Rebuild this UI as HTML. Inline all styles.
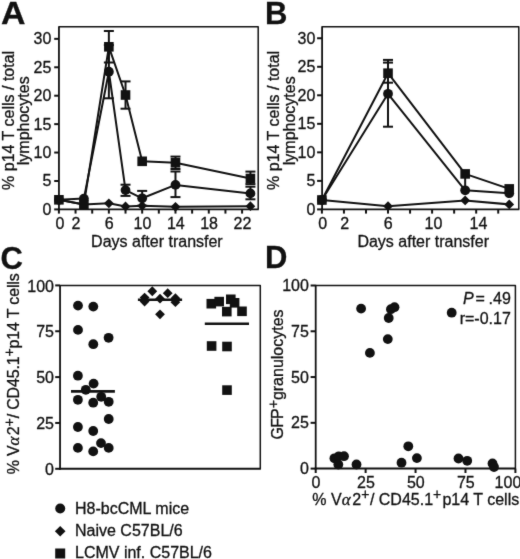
<!DOCTYPE html>
<html><head><meta charset="utf-8"><style>
html,body{margin:0;padding:0;background:#fff;}
svg{display:block;}
text{font-family:"Liberation Sans", sans-serif;fill:#111;}
</style></head><body>
<svg width="520" height="559" viewBox="0 0 520 559" stroke="#111" fill="#111" stroke-linecap="butt">
<defs><filter id="soft" x="0" y="0" width="100%" height="100%" color-interpolation-filters="sRGB"><feConvolveMatrix order="3" kernelMatrix="0.015 0.07 0.015 0.07 0.66 0.07 0.015 0.07 0.015" divisor="1" edgeMode="none" preserveAlpha="false"/></filter></defs>
<rect x="0" y="0" width="520" height="559" fill="#fff" stroke="none"/>
<g filter="url(#soft)">
<rect x="0" y="0" width="520" height="559" fill="#fff" stroke="none"/>
<path d="M58.95,26.80 L258.20,26.80 L258.20,209.35" fill="none" stroke-width="1.5" stroke-linejoin="round"/>
<line x1="58.95" y1="26.20" x2="58.95" y2="210.25" stroke-width="1.8"/>
<line x1="58.05" y1="209.35" x2="258.80" y2="209.35" stroke-width="1.8"/>
<line x1="54.20" y1="209.40" x2="58.95" y2="209.40" stroke-width="2.0"/>
<text stroke-width="0.3" x="51.40" y="214.80" text-anchor="end" font-size="16" >0</text>
<line x1="54.20" y1="180.98" x2="58.95" y2="180.98" stroke-width="2.0"/>
<text stroke-width="0.3" x="51.40" y="186.38" text-anchor="end" font-size="16" >5</text>
<line x1="54.20" y1="152.55" x2="58.95" y2="152.55" stroke-width="2.0"/>
<text stroke-width="0.3" x="51.40" y="157.95" text-anchor="end" font-size="16" >10</text>
<line x1="54.20" y1="124.13" x2="58.95" y2="124.13" stroke-width="2.0"/>
<text stroke-width="0.3" x="51.40" y="129.53" text-anchor="end" font-size="16" >15</text>
<line x1="54.20" y1="95.70" x2="58.95" y2="95.70" stroke-width="2.0"/>
<text stroke-width="0.3" x="51.40" y="101.10" text-anchor="end" font-size="16" >20</text>
<line x1="54.20" y1="67.28" x2="58.95" y2="67.28" stroke-width="2.0"/>
<text stroke-width="0.3" x="51.40" y="72.68" text-anchor="end" font-size="16" >25</text>
<line x1="54.20" y1="38.85" x2="58.95" y2="38.85" stroke-width="2.0"/>
<text stroke-width="0.3" x="51.40" y="44.25" text-anchor="end" font-size="16" >30</text>
<line x1="58.90" y1="209.35" x2="58.90" y2="213.60" stroke-width="2.0"/>
<line x1="75.55" y1="209.35" x2="75.55" y2="213.60" stroke-width="2.0"/>
<line x1="92.21" y1="209.35" x2="92.21" y2="213.60" stroke-width="2.0"/>
<line x1="108.86" y1="209.35" x2="108.86" y2="213.60" stroke-width="2.0"/>
<line x1="125.52" y1="209.35" x2="125.52" y2="213.60" stroke-width="2.0"/>
<line x1="142.17" y1="209.35" x2="142.17" y2="213.60" stroke-width="2.0"/>
<line x1="158.82" y1="209.35" x2="158.82" y2="213.60" stroke-width="2.0"/>
<line x1="175.48" y1="209.35" x2="175.48" y2="213.60" stroke-width="2.0"/>
<line x1="192.13" y1="209.35" x2="192.13" y2="213.60" stroke-width="2.0"/>
<line x1="208.79" y1="209.35" x2="208.79" y2="213.60" stroke-width="2.0"/>
<line x1="225.44" y1="209.35" x2="225.44" y2="213.60" stroke-width="2.0"/>
<line x1="242.09" y1="209.35" x2="242.09" y2="213.60" stroke-width="2.0"/>
<text stroke-width="0.3" x="60.00" y="228.80" text-anchor="middle" font-size="16" >0</text>
<text stroke-width="0.3" x="75.85" y="228.80" text-anchor="middle" font-size="16" >2</text>
<text stroke-width="0.3" x="109.16" y="228.80" text-anchor="middle" font-size="16" >6</text>
<text stroke-width="0.3" x="142.47" y="228.80" text-anchor="middle" font-size="16" >10</text>
<text stroke-width="0.3" x="175.78" y="228.80" text-anchor="middle" font-size="16" >14</text>
<text stroke-width="0.3" x="209.09" y="228.80" text-anchor="middle" font-size="16" >18</text>
<text stroke-width="0.3" x="242.39" y="228.80" text-anchor="middle" font-size="16" >22</text>
<text stroke-width="0.3" x="156.90" y="246.70" text-anchor="middle" font-size="16" >Days after transfer</text>
<text stroke-width="0.3" x="0.00" y="0.00" text-anchor="middle" font-size="16" transform="translate(13.7,120.4) rotate(-90)">% p14 T cells / total</text>
<text stroke-width="0.3" x="0.00" y="0.00" text-anchor="middle" font-size="16" transform="translate(29.3,120.8) rotate(-90)">lymphocytes</text>
<text stroke-width="0.3" x="0" y="24.1" font-size="32" font-weight="bold" transform="translate(0.9,0) scale(1.06,1)">A</text>
<line x1="108.86" y1="31.00" x2="108.86" y2="62.50" stroke-width="2"/>
<line x1="103.86" y1="31.00" x2="113.86" y2="31.00" stroke-width="2"/>
<line x1="103.86" y1="62.50" x2="113.86" y2="62.50" stroke-width="2"/>
<line x1="125.52" y1="81.40" x2="125.52" y2="108.70" stroke-width="2"/>
<line x1="120.52" y1="81.40" x2="130.52" y2="81.40" stroke-width="2"/>
<line x1="120.52" y1="108.70" x2="130.52" y2="108.70" stroke-width="2"/>
<line x1="175.48" y1="156.60" x2="175.48" y2="169.00" stroke-width="2"/>
<line x1="170.48" y1="156.60" x2="180.48" y2="156.60" stroke-width="2"/>
<line x1="170.48" y1="169.00" x2="180.48" y2="169.00" stroke-width="2"/>
<line x1="250.42" y1="171.60" x2="250.42" y2="184.10" stroke-width="2"/>
<line x1="245.42" y1="171.60" x2="255.42" y2="171.60" stroke-width="2"/>
<line x1="245.42" y1="184.10" x2="255.42" y2="184.10" stroke-width="2"/>
<line x1="108.86" y1="45.10" x2="108.86" y2="98.30" stroke-width="2"/>
<line x1="103.86" y1="45.10" x2="113.86" y2="45.10" stroke-width="2"/>
<line x1="103.86" y1="98.30" x2="113.86" y2="98.30" stroke-width="2"/>
<line x1="125.52" y1="184.70" x2="125.52" y2="195.90" stroke-width="2"/>
<line x1="120.52" y1="184.70" x2="130.52" y2="184.70" stroke-width="2"/>
<line x1="120.52" y1="195.90" x2="130.52" y2="195.90" stroke-width="2"/>
<line x1="142.17" y1="190.90" x2="142.17" y2="205.70" stroke-width="2"/>
<line x1="137.17" y1="190.90" x2="147.17" y2="190.90" stroke-width="2"/>
<line x1="137.17" y1="205.70" x2="147.17" y2="205.70" stroke-width="2"/>
<line x1="175.48" y1="171.50" x2="175.48" y2="197.10" stroke-width="2"/>
<line x1="170.48" y1="171.50" x2="180.48" y2="171.50" stroke-width="2"/>
<line x1="170.48" y1="197.10" x2="180.48" y2="197.10" stroke-width="2"/>
<line x1="250.42" y1="186.70" x2="250.42" y2="199.30" stroke-width="2"/>
<line x1="245.42" y1="186.70" x2="255.42" y2="186.70" stroke-width="2"/>
<line x1="245.42" y1="199.30" x2="255.42" y2="199.30" stroke-width="2"/>
<polyline points="58.90,199.80 83.88,204.40 108.86,203.30 125.52,206.40 142.17,205.80 175.48,206.80 250.42,206.20" fill="none" stroke-width="2" stroke-linejoin="round"/>
<polyline points="58.90,199.80 83.88,198.60 108.86,71.70 125.52,190.10 142.17,198.30 175.48,184.90 250.42,193.40" fill="none" stroke-width="2" stroke-linejoin="round"/>
<polyline points="58.90,199.80 83.88,204.40 108.86,46.80 125.52,95.00 142.17,161.30 175.48,162.80 250.42,178.50" fill="none" stroke-width="2" stroke-linejoin="round"/>
<polygon points="58.90,194.90 63.80,199.80 58.90,204.70 54.00,199.80" stroke="none"/>
<polygon points="83.88,199.50 88.78,204.40 83.88,209.30 78.98,204.40" stroke="none"/>
<polygon points="108.86,198.40 113.76,203.30 108.86,208.20 103.96,203.30" stroke="none"/>
<polygon points="125.52,201.50 130.42,206.40 125.52,211.30 120.62,206.40" stroke="none"/>
<polygon points="142.17,200.90 147.07,205.80 142.17,210.70 137.27,205.80" stroke="none"/>
<polygon points="175.48,201.90 180.38,206.80 175.48,211.70 170.58,206.80" stroke="none"/>
<polygon points="250.42,201.30 255.32,206.20 250.42,211.10 245.52,206.20" stroke="none"/>
<circle cx="58.90" cy="199.80" r="4.9" stroke="none"/>
<circle cx="83.88" cy="198.60" r="4.9" stroke="none"/>
<circle cx="108.86" cy="71.70" r="4.9" stroke="none"/>
<circle cx="125.52" cy="190.10" r="4.9" stroke="none"/>
<circle cx="142.17" cy="198.30" r="4.9" stroke="none"/>
<circle cx="175.48" cy="184.90" r="4.9" stroke="none"/>
<circle cx="250.42" cy="193.40" r="4.9" stroke="none"/>
<rect x="54.10" y="195.00" width="9.6" height="9.6" stroke="none"/>
<rect x="79.08" y="199.60" width="9.6" height="9.6" stroke="none"/>
<rect x="104.06" y="42.00" width="9.6" height="9.6" stroke="none"/>
<rect x="120.72" y="90.20" width="9.6" height="9.6" stroke="none"/>
<rect x="137.37" y="156.50" width="9.6" height="9.6" stroke="none"/>
<rect x="170.68" y="158.00" width="9.6" height="9.6" stroke="none"/>
<rect x="245.62" y="173.70" width="9.6" height="9.6" stroke="none"/>
<path d="M322.10,26.80 L518.80,26.80 L518.80,209.35" fill="none" stroke-width="1.5" stroke-linejoin="round"/>
<line x1="322.10" y1="26.20" x2="322.10" y2="210.25" stroke-width="1.8"/>
<line x1="321.20" y1="209.35" x2="519.40" y2="209.35" stroke-width="1.8"/>
<line x1="317.10" y1="209.40" x2="322.10" y2="209.40" stroke-width="2.0"/>
<text stroke-width="0.3" x="315.30" y="214.80" text-anchor="end" font-size="16" >0</text>
<line x1="317.10" y1="180.88" x2="322.10" y2="180.88" stroke-width="2.0"/>
<text stroke-width="0.3" x="315.30" y="186.28" text-anchor="end" font-size="16" >5</text>
<line x1="317.10" y1="152.35" x2="322.10" y2="152.35" stroke-width="2.0"/>
<text stroke-width="0.3" x="315.30" y="157.75" text-anchor="end" font-size="16" >10</text>
<line x1="317.10" y1="123.83" x2="322.10" y2="123.83" stroke-width="2.0"/>
<text stroke-width="0.3" x="315.30" y="129.22" text-anchor="end" font-size="16" >15</text>
<line x1="317.10" y1="95.30" x2="322.10" y2="95.30" stroke-width="2.0"/>
<text stroke-width="0.3" x="315.30" y="100.70" text-anchor="end" font-size="16" >20</text>
<line x1="317.10" y1="66.78" x2="322.10" y2="66.78" stroke-width="2.0"/>
<text stroke-width="0.3" x="315.30" y="72.18" text-anchor="end" font-size="16" >25</text>
<line x1="317.10" y1="38.25" x2="322.10" y2="38.25" stroke-width="2.0"/>
<text stroke-width="0.3" x="315.30" y="43.65" text-anchor="end" font-size="16" >30</text>
<line x1="321.90" y1="209.35" x2="321.90" y2="213.60" stroke-width="2.0"/>
<line x1="343.94" y1="209.35" x2="343.94" y2="213.60" stroke-width="2.0"/>
<line x1="365.98" y1="209.35" x2="365.98" y2="213.60" stroke-width="2.0"/>
<line x1="388.02" y1="209.35" x2="388.02" y2="213.60" stroke-width="2.0"/>
<line x1="410.06" y1="209.35" x2="410.06" y2="213.60" stroke-width="2.0"/>
<line x1="432.10" y1="209.35" x2="432.10" y2="213.60" stroke-width="2.0"/>
<line x1="454.14" y1="209.35" x2="454.14" y2="213.60" stroke-width="2.0"/>
<line x1="476.18" y1="209.35" x2="476.18" y2="213.60" stroke-width="2.0"/>
<line x1="498.22" y1="209.35" x2="498.22" y2="213.60" stroke-width="2.0"/>
<text stroke-width="0.3" x="322.70" y="228.80" text-anchor="middle" font-size="16" >0</text>
<text stroke-width="0.3" x="344.74" y="228.80" text-anchor="middle" font-size="16" >2</text>
<text stroke-width="0.3" x="388.32" y="228.80" text-anchor="middle" font-size="16" >6</text>
<text stroke-width="0.3" x="433.50" y="228.80" text-anchor="middle" font-size="16" >10</text>
<text stroke-width="0.3" x="478.48" y="228.80" text-anchor="middle" font-size="16" >14</text>
<text stroke-width="0.3" x="423.20" y="246.70" text-anchor="middle" font-size="16" >Days after transfer</text>
<text stroke-width="0.3" x="0.00" y="0.00" text-anchor="middle" font-size="16" transform="translate(279.2,120.4) rotate(-90)">% p14 T cells / total</text>
<text stroke-width="0.3" x="0.00" y="0.00" text-anchor="middle" font-size="16" transform="translate(294.8,120.8) rotate(-90)">lymphocytes</text>
<text stroke-width="0.3" x="265" y="24.2" font-size="31" font-weight="bold">B</text>
<line x1="388.02" y1="59.90" x2="388.02" y2="126.70" stroke-width="2"/>
<line x1="383.02" y1="59.90" x2="393.02" y2="59.90" stroke-width="2"/>
<line x1="383.02" y1="126.70" x2="393.02" y2="126.70" stroke-width="2"/>
<line x1="388.02" y1="62.60" x2="388.02" y2="82.70" stroke-width="2"/>
<line x1="383.02" y1="62.60" x2="393.02" y2="62.60" stroke-width="2"/>
<line x1="383.02" y1="82.70" x2="393.02" y2="82.70" stroke-width="2"/>
<line x1="465.16" y1="173.90" x2="465.16" y2="190.30" stroke-width="2"/>
<polyline points="321.90,200.00 388.02,206.20 465.16,200.40 509.24,204.40" fill="none" stroke-width="2" stroke-linejoin="round"/>
<polyline points="321.90,200.00 388.02,93.80 465.16,190.30 509.24,193.20" fill="none" stroke-width="2" stroke-linejoin="round"/>
<polyline points="321.90,200.00 388.02,73.20 465.16,173.90 509.24,188.90" fill="none" stroke-width="2" stroke-linejoin="round"/>
<polygon points="321.90,195.10 326.80,200.00 321.90,204.90 317.00,200.00" stroke="none"/>
<polygon points="388.02,201.30 392.92,206.20 388.02,211.10 383.12,206.20" stroke="none"/>
<polygon points="465.16,195.50 470.06,200.40 465.16,205.30 460.26,200.40" stroke="none"/>
<polygon points="509.24,199.50 514.14,204.40 509.24,209.30 504.34,204.40" stroke="none"/>
<circle cx="321.90" cy="200.00" r="4.9" stroke="none"/>
<circle cx="388.02" cy="93.80" r="4.9" stroke="none"/>
<circle cx="465.16" cy="190.30" r="4.9" stroke="none"/>
<circle cx="509.24" cy="193.20" r="4.9" stroke="none"/>
<rect x="317.10" y="195.20" width="9.6" height="9.6" stroke="none"/>
<rect x="383.22" y="68.40" width="9.6" height="9.6" stroke="none"/>
<rect x="460.36" y="169.10" width="9.6" height="9.6" stroke="none"/>
<rect x="504.44" y="184.10" width="9.6" height="9.6" stroke="none"/>
<path d="M60.05,285.50 L260.30,285.50 L260.30,468.75" fill="none" stroke-width="1.5" stroke-linejoin="round"/>
<line x1="60.05" y1="284.90" x2="60.05" y2="469.65" stroke-width="1.8"/>
<line x1="59.15" y1="468.75" x2="260.90" y2="468.75" stroke-width="1.8"/>
<line x1="55.20" y1="468.80" x2="60.05" y2="468.80" stroke-width="2.0"/>
<text stroke-width="0.3" x="54.00" y="474.60" text-anchor="end" font-size="16" >0</text>
<line x1="55.20" y1="422.95" x2="60.05" y2="422.95" stroke-width="2.0"/>
<text stroke-width="0.3" x="54.00" y="428.75" text-anchor="end" font-size="16" >25</text>
<line x1="55.20" y1="377.10" x2="60.05" y2="377.10" stroke-width="2.0"/>
<text stroke-width="0.3" x="54.00" y="382.90" text-anchor="end" font-size="16" >50</text>
<line x1="55.20" y1="331.25" x2="60.05" y2="331.25" stroke-width="2.0"/>
<text stroke-width="0.3" x="54.00" y="337.05" text-anchor="end" font-size="16" >75</text>
<line x1="55.20" y1="285.40" x2="60.05" y2="285.40" stroke-width="2.0"/>
<text stroke-width="0.3" x="54.00" y="291.80" text-anchor="end" font-size="16" >100</text>
<text stroke-width="0.3" x="0.5" y="268.8" font-size="31" font-weight="bold">C</text>
<text stroke-width="0.3" x="0.00" y="0.00" text-anchor="middle" font-size="16" letter-spacing="-0.16" transform="translate(18.9,373.9) rotate(-90)">% V<tspan font-family="Liberation Serif" font-style="italic" font-size="17">&#945;</tspan><tspan dx="1.6">2</tspan><tspan font-size="14" dy="-5">+</tspan><tspan dy="5">/ CD45.1</tspan><tspan font-size="14" dy="-5">+</tspan><tspan dy="5">p14 T cells</tspan></text>
<circle cx="78.00" cy="305.60" r="4.9" stroke="none"/>
<circle cx="93.30" cy="306.60" r="4.9" stroke="none"/>
<circle cx="78.00" cy="329.90" r="4.9" stroke="none"/>
<circle cx="93.30" cy="344.20" r="4.9" stroke="none"/>
<circle cx="108.60" cy="337.80" r="4.9" stroke="none"/>
<circle cx="77.90" cy="375.70" r="4.9" stroke="none"/>
<circle cx="93.60" cy="383.60" r="4.9" stroke="none"/>
<circle cx="85.80" cy="389.80" r="4.9" stroke="none"/>
<circle cx="77.90" cy="399.80" r="4.9" stroke="none"/>
<circle cx="93.20" cy="402.70" r="4.9" stroke="none"/>
<circle cx="101.20" cy="396.80" r="4.9" stroke="none"/>
<circle cx="108.70" cy="401.80" r="4.9" stroke="none"/>
<circle cx="108.70" cy="419.00" r="4.9" stroke="none"/>
<circle cx="77.90" cy="427.00" r="4.9" stroke="none"/>
<circle cx="93.20" cy="431.00" r="4.9" stroke="none"/>
<circle cx="77.90" cy="447.90" r="4.9" stroke="none"/>
<circle cx="93.20" cy="451.40" r="4.9" stroke="none"/>
<circle cx="101.00" cy="443.10" r="4.9" stroke="none"/>
<circle cx="108.70" cy="447.90" r="4.9" stroke="none"/>
<line x1="71.00" y1="391.40" x2="114.90" y2="391.40" stroke-width="2.6"/>
<polygon points="152.30,286.35 157.20,291.25 152.30,296.15 147.40,291.25" stroke="none"/>
<polygon points="167.70,288.30 172.60,293.20 167.70,298.10 162.80,293.20" stroke="none"/>
<polygon points="144.60,292.70 149.50,297.60 144.60,302.50 139.70,297.60" stroke="none"/>
<polygon points="144.60,296.60 149.50,301.50 144.60,306.40 139.70,301.50" stroke="none"/>
<polygon points="160.00,293.80 164.90,298.70 160.00,303.60 155.10,298.70" stroke="none"/>
<polygon points="175.40,293.30 180.30,298.20 175.40,303.10 170.50,298.20" stroke="none"/>
<polygon points="175.40,297.30 180.30,302.20 175.40,307.10 170.50,302.20" stroke="none"/>
<polygon points="160.00,309.40 164.90,314.30 160.00,319.20 155.10,314.30" stroke="none"/>
<line x1="137.90" y1="299.70" x2="182.10" y2="299.70" stroke-width="2.6"/>
<rect x="206.50" y="298.90" width="9.6" height="9.6" stroke="none"/>
<rect x="214.40" y="296.80" width="9.6" height="9.6" stroke="none"/>
<rect x="226.00" y="294.50" width="9.6" height="9.6" stroke="none"/>
<rect x="229.80" y="298.00" width="9.6" height="9.6" stroke="none"/>
<rect x="222.00" y="306.80" width="9.6" height="9.6" stroke="none"/>
<rect x="237.20" y="306.50" width="9.6" height="9.6" stroke="none"/>
<rect x="206.80" y="341.20" width="9.6" height="9.6" stroke="none"/>
<rect x="222.20" y="341.70" width="9.6" height="9.6" stroke="none"/>
<rect x="222.20" y="385.30" width="9.6" height="9.6" stroke="none"/>
<line x1="204.80" y1="323.70" x2="249.00" y2="323.70" stroke-width="2.6"/>
<path d="M315.70,285.50 L515.40,285.50 L515.40,468.50" fill="none" stroke-width="1.5" stroke-linejoin="round"/>
<line x1="315.70" y1="284.90" x2="315.70" y2="469.40" stroke-width="1.8"/>
<line x1="314.80" y1="468.50" x2="516.00" y2="468.50" stroke-width="1.8"/>
<line x1="310.60" y1="468.60" x2="315.70" y2="468.60" stroke-width="2.0"/>
<text stroke-width="0.3" x="308.90" y="474.20" text-anchor="end" font-size="16" >0</text>
<line x1="315.70" y1="468.50" x2="315.70" y2="473.00" stroke-width="2.0"/>
<text stroke-width="0.3" x="316.00" y="487.80" text-anchor="middle" font-size="16" >0</text>
<line x1="310.60" y1="422.83" x2="315.70" y2="422.83" stroke-width="2.0"/>
<text stroke-width="0.3" x="308.90" y="428.43" text-anchor="end" font-size="16" >25</text>
<line x1="365.62" y1="468.50" x2="365.62" y2="473.00" stroke-width="2.0"/>
<text stroke-width="0.3" x="365.93" y="487.80" text-anchor="middle" font-size="16" >25</text>
<line x1="310.60" y1="377.05" x2="315.70" y2="377.05" stroke-width="2.0"/>
<text stroke-width="0.3" x="308.90" y="382.65" text-anchor="end" font-size="16" >50</text>
<line x1="415.55" y1="468.50" x2="415.55" y2="473.00" stroke-width="2.0"/>
<text stroke-width="0.3" x="415.85" y="487.80" text-anchor="middle" font-size="16" >50</text>
<line x1="310.60" y1="331.28" x2="315.70" y2="331.28" stroke-width="2.0"/>
<text stroke-width="0.3" x="308.90" y="336.88" text-anchor="end" font-size="16" >75</text>
<line x1="465.48" y1="468.50" x2="465.48" y2="473.00" stroke-width="2.0"/>
<text stroke-width="0.3" x="465.78" y="487.80" text-anchor="middle" font-size="16" >75</text>
<line x1="310.60" y1="285.50" x2="315.70" y2="285.50" stroke-width="2.0"/>
<text stroke-width="0.3" x="308.90" y="291.10" text-anchor="end" font-size="16" >100</text>
<line x1="515.40" y1="468.50" x2="515.40" y2="473.00" stroke-width="2.0"/>
<text stroke-width="0.3" x="494.60" y="487.80" text-anchor="start" font-size="16" >100</text>
<text stroke-width="0.3" x="265" y="267.9" font-size="31" font-weight="bold">D</text>
<text stroke-width="0.3" x="0.00" y="0.00" text-anchor="middle" font-size="16" transform="translate(282.7,374.4) rotate(-90)"><tspan letter-spacing="-0.9">GF</tspan>P<tspan font-size="14" dy="-5">+</tspan><tspan dy="5">granulocytes</tspan></text>
<text stroke-width="0.3" x="415.80" y="504.90" text-anchor="middle" font-size="16" >% V<tspan font-family="Liberation Serif" font-style="italic" font-size="17">&#945;</tspan><tspan dx="1.6">2</tspan><tspan font-size="14" dy="-6">+</tspan><tspan dy="6" dx="0.6">/ CD45.1</tspan><tspan font-size="14" dy="-6">+</tspan><tspan dy="6" dx="1.2">p14 T cells</tspan></text>
<text stroke-width="0.3" x="463.00" y="304.40" text-anchor="start" font-size="16" font-style="italic">P</text>
<text stroke-width="0.3" x="475.60" y="304.40" text-anchor="start" font-size="16" >=</text>
<text stroke-width="0.3" x="510.80" y="304.40" text-anchor="end" font-size="16" >.49</text>
<text stroke-width="0.3" x="510.80" y="323.80" text-anchor="end" font-size="16" >r=-0.17</text>
<circle cx="361.10" cy="308.60" r="4.9" stroke="none"/>
<circle cx="390.90" cy="309.20" r="4.9" stroke="none"/>
<circle cx="394.50" cy="307.20" r="4.9" stroke="none"/>
<circle cx="388.70" cy="318.00" r="4.9" stroke="none"/>
<circle cx="387.80" cy="339.10" r="4.9" stroke="none"/>
<circle cx="369.90" cy="352.90" r="4.9" stroke="none"/>
<circle cx="451.70" cy="312.70" r="4.9" stroke="none"/>
<circle cx="334.40" cy="458.30" r="4.9" stroke="none"/>
<circle cx="338.75" cy="456.30" r="4.9" stroke="none"/>
<circle cx="344.00" cy="456.20" r="4.9" stroke="none"/>
<circle cx="338.30" cy="464.50" r="4.9" stroke="none"/>
<circle cx="356.50" cy="464.50" r="4.9" stroke="none"/>
<circle cx="401.50" cy="462.70" r="4.9" stroke="none"/>
<circle cx="408.30" cy="446.30" r="4.9" stroke="none"/>
<circle cx="416.90" cy="458.10" r="4.9" stroke="none"/>
<circle cx="458.50" cy="458.50" r="4.9" stroke="none"/>
<circle cx="467.20" cy="460.80" r="4.9" stroke="none"/>
<circle cx="492.50" cy="463.50" r="4.9" stroke="none"/>
<circle cx="494.00" cy="467.00" r="4.9" stroke="none"/>
<circle cx="60.20" cy="508.50" r="5" stroke="none"/>
<polygon points="60.20,525.90 65.50,531.20 60.20,536.50 54.90,531.20" stroke="none"/>
<rect x="55.20" y="548.50" width="10" height="10" stroke="none"/>
<text stroke-width="0.3" x="75.00" y="513.80" text-anchor="start" font-size="16" >H8-bcCML mice</text>
<text stroke-width="0.3" x="75.00" y="536.20" text-anchor="start" font-size="16" >Naive C57BL/6</text>
<text stroke-width="0.3" x="75.00" y="558.00" text-anchor="start" font-size="16" >LCMV inf. C57BL/6</text>
</g>
</svg>
</body></html>
